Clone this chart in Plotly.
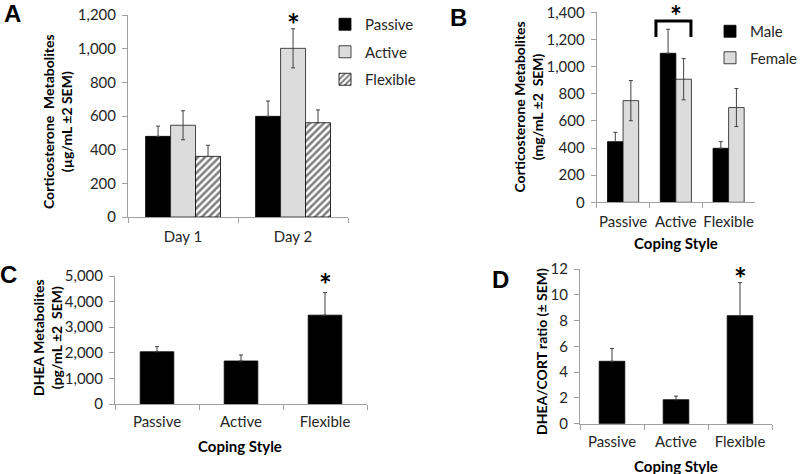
import plotly.graph_objects as go

# ---------------- data ----------------
days = ["Day 1", "Day 2"]
a_passive = [479, 598]
a_passive_err = [61, 91]
a_active = [545, 1002]
a_active_err = [86, 116]
a_flexible = [360, 560]
a_flexible_err = [66, 76]

styles = ["Passive", "Active", "Flexible"]
b_male = [447, 1098, 398]
b_male_err = [69, 177, 49]
b_female = [749, 907, 698]
b_female_err = [148, 152, 140]

c_dhea = [2040, 1680, 3470]
c_dhea_err = [200, 235, 880]

d_ratio = [4.84, 1.86, 8.38]
d_ratio_err = [1.0, 0.28, 2.56]

a_ticks = [0, 200, 400, 600, 800, 1000, 1200]
b_ticks = [0, 200, 400, 600, 800, 1000, 1200, 1400]
c_ticks = [0, 1000, 2000, 3000, 4000, 5000]
d_ticks = [0, 2, 4, 6, 8, 10, 12]

W, H = 800, 474
FONT = "Lato, Carlito, Calibri, sans-serif"
TXT = "#262626"
AXC = "#a0a0a0"


def px(x):
    return x / W


def py(y):
    return 1 - y / H


def err(v, c="#404040"):
    # symmetric error bar (visible on light bars)
    return dict(type="data", array=v, visible=True, color=c, thickness=1, width=2)


def err_up(v, c="#404040"):
    # lower half is hidden behind dark / hatched bars in the original
    return dict(type="data", array=v, arrayminus=[0] * len(v), symmetric=False, visible=True,
                color=c, thickness=1, width=2)


fig = go.Figure()

# Panel A
wA = 0.227
fig.add_bar(x=days, y=a_passive, error_y=err_up(a_passive_err), name="Passive",
            marker=dict(color="black", line=dict(color="black", width=0.8)),
            width=wA, offset=-0.34, xaxis="x", yaxis="y", legend="legend", legendgroup="p")
fig.add_bar(x=days, y=a_active, error_y=err(a_active_err), name="Active",
            marker=dict(color="#dcdcdc", line=dict(color="#1a1a1a", width=0.8)),
            width=wA, offset=-0.113, xaxis="x", yaxis="y", legend="legend", legendgroup="a")
fig.add_bar(x=days, y=a_flexible, error_y=err_up(a_flexible_err), name="Flexible",
            marker=dict(color="white", line=dict(color="black", width=0.8),
                        pattern=dict(shape="/", fgcolor="black", bgcolor="white", size=5, solidity=0.5)),
            width=wA, offset=0.114, xaxis="x", yaxis="y", legend="legend", legendgroup="f")

# Panel B
wB = 0.295
fig.add_bar(x=styles, y=b_male, error_y=err_up(b_male_err), name="Male",
            marker=dict(color="black", line=dict(color="black", width=0.8)),
            width=wB, offset=-wB, xaxis="x2", yaxis="y2", legend="legend2", legendgroup="m")
fig.add_bar(x=styles, y=b_female, error_y=err(b_female_err), name="Female",
            marker=dict(color="#dcdcdc", line=dict(color="#1a1a1a", width=0.8)),
            width=wB, offset=0, xaxis="x2", yaxis="y2", legend="legend2", legendgroup="fe")

# Panel C
fig.add_bar(x=styles, y=c_dhea, error_y=err_up(c_dhea_err), name="DHEA",
            marker=dict(color="black", line=dict(color="black", width=0.8)),
            width=0.4, xaxis="x3", yaxis="y3", showlegend=False)

# Panel D
fig.add_bar(x=styles, y=d_ratio, error_y=err_up(d_ratio_err), name="Ratio",
            marker=dict(color="black", line=dict(color="black", width=0.8)),
            width=0.4, xaxis="x4", yaxis="y4", showlegend=False)


def xax(dom, anchor, standoff=4):
    return dict(domain=dom, anchor=anchor, type="category", showline=True, linecolor=AXC, linewidth=1,
                ticks="outside", tickson="boundaries", ticklen=5, tickcolor=AXC, showgrid=False,
                zeroline=False, tickfont=dict(family=FONT, size=15, color=TXT), ticklabelstandoff=standoff,
                tickangle=0, automargin=False)


def yax(dom, anchor, rng, ticks):
    return dict(domain=dom, anchor=anchor, range=rng, tickvals=ticks, tickformat=",d", showline=True,
                linecolor=AXC, linewidth=1, ticks="outside", ticklen=5, tickcolor=AXC, showgrid=False,
                zeroline=False, tickfont=dict(family=FONT, size=15, color=TXT), ticklabelstandoff=3,
                automargin=False)


layout = dict(
    width=W, height=H, margin=dict(l=0, r=0, t=0, b=0, autoexpand=False),
    paper_bgcolor="white", plot_bgcolor="white", barmode="overlay",
    font=dict(family=FONT, color=TXT),
    xaxis=xax([px(128), px(348)], "y", 6),
    yaxis=yax([py(217), py(15)], "x", [0, 1200], a_ticks),
    xaxis2=xax([px(596.7), px(755)], "y2", 6),
    yaxis2=yax([py(202.3), py(12.3)], "x2", [0, 1400], b_ticks),
    xaxis3=xax([px(115), px(367)], "y3", 4),
    yaxis3=yax([py(404), py(276)], "x3", [0, 5000], c_ticks),
    xaxis4=xax([px(580), px(772)], "y4", 4),
    yaxis4=yax([py(423.7), py(269)], "x4", [0, 12], d_ticks),
    legend=dict(x=px(325), y=py(8), xanchor="left", yanchor="top", bgcolor="rgba(0,0,0,0)",
                font=dict(family=FONT, size=15, color=TXT), tracegroupgap=5, itemwidth=30,
                traceorder="grouped"),
    legend2=dict(x=px(710), y=py(15), xanchor="left", yanchor="top", bgcolor="rgba(0,0,0,0)",
                 font=dict(family=FONT, size=15, color=TXT), tracegroupgap=4, itemwidth=30,
                 traceorder="grouped"),
)
fig.update_layout(**layout)

ann = []


def text(x, y, s, size, bold=False, angle=0, family=FONT, xref="paper", yref="paper"):
    ann.append(dict(x=x, y=y, xref=xref, yref=yref, text=(f"<b>{s}</b>" if bold else s), showarrow=False,
                    textangle=angle, font=dict(family=family, size=size, color="black" if bold else TXT),
                    xanchor="center", yanchor="middle"))


LET = "Liberation Sans, Arial, sans-serif"
text(px(12), py(14), "A", 24, True, family=LET)
text(px(458), py(17), "B", 24, True, family=LET)
text(px(8), py(274), "C", 24, True, family=LET)
text(px(500), py(279), "D", 24, True, family=LET)

# axis titles
text(px(57), py(121), "Corticosterone  Metabolites<br>(µg/mL ±2 SEM)", 14, True, -90)
text(px(528), py(107.5), "Corticosterone Metabolites<br>(mg/mL ±2  SEM)", 14, True, -90)
text(px(47), py(338), "DHEA Metabolites<br>(pg/mL ±2  SEM)", 14, True, -90)
text(px(541), py(352), "DHEA/CORT ratio (± SEM)", 14, True, -90)
text(px(676), py(243), "Coping Style", 15, True)
text(px(240), py(446), "Coping Style", 15, True)
text(px(676), py(466), "Coping Style", 15, True)

# significance asterisks
text("Day 2", py(24), "*", 30, True, xref="x", yref="paper")
text("Active", py(15), "*", 28, True, xref="x2", yref="paper")
text("Flexible", py(284), "*", 30, True, xref="x3", yref="paper")
text("Flexible", py(278), "*", 30, True, xref="x4", yref="paper")

fig.update_layout(annotations=ann)

# bracket over Active in panel B
fig.add_shape(type="path", xref="x2", yref="y2",
              path="M 0.623,1218 L 0.623,1336 L 1.286,1336 L 1.286,1218",
              line=dict(color="black", width=3))

fig.write_html("out.html", config={"displayModeBar": False},
               post_script="document.body.style.margin='0';document.body.style.overflow='hidden';")
